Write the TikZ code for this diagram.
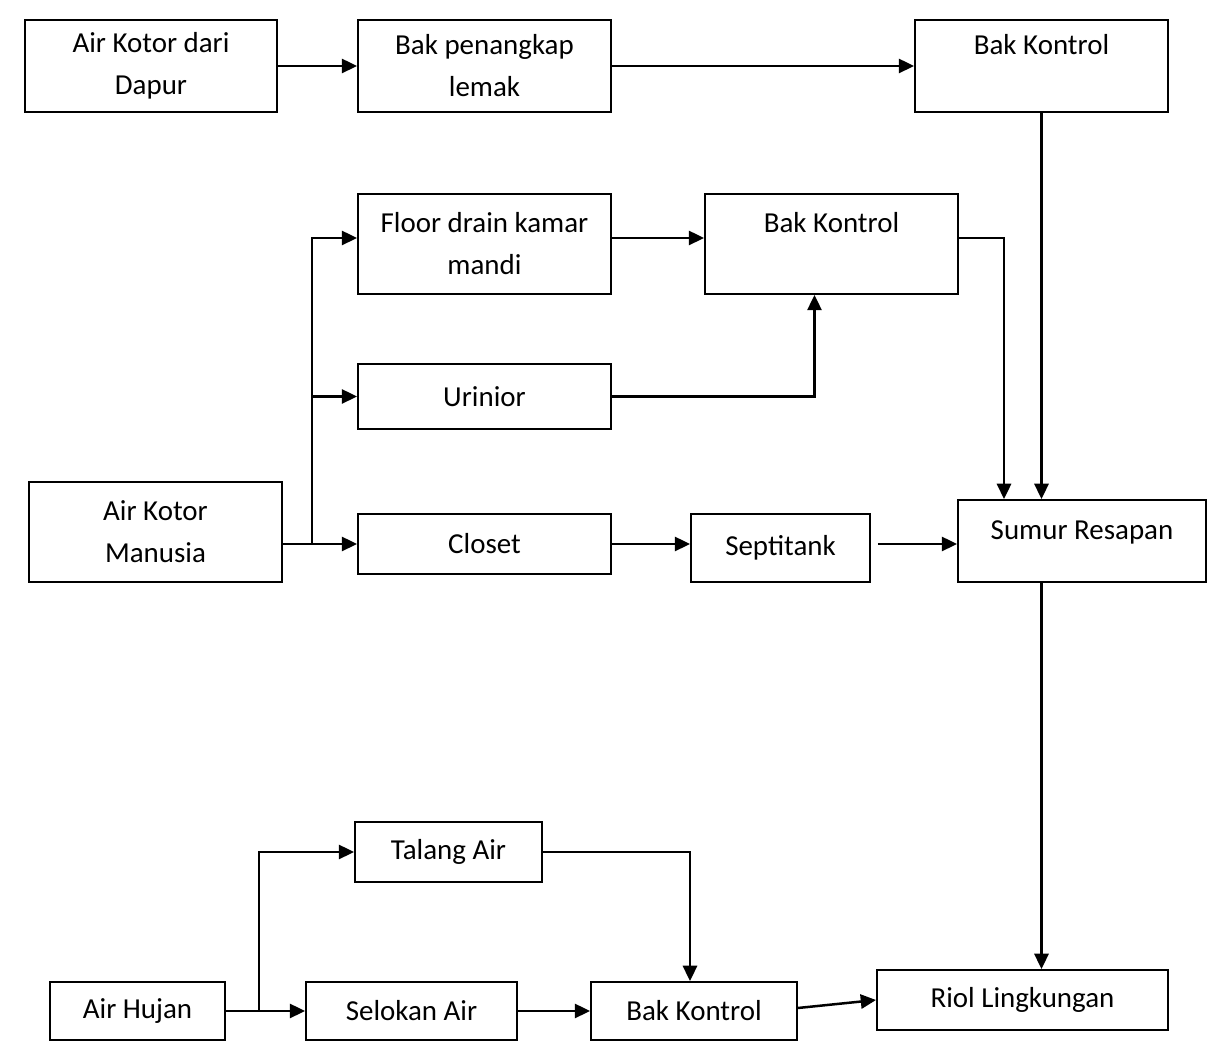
\documentclass[tikz,border=0pt]{standalone}
\usepackage{fontspec}
\setmainfont{Carlito}
\usetikzlibrary{arrows.meta}
\newlength\unitpx
\setlength\unitpx{0.38pt}
\begin{document}
\begin{tikzpicture}[x=0.38pt,y=-0.38pt,
  box/.style={draw,line width=0.75pt,inner sep=0,align=center,
    font=\fontsize{11}{16}\selectfont},
  ar/.style={line width=0.95pt,-{Triangle[length=5.8pt,width=5.4pt]}}]
\useasboundingbox (0,0) rectangle (1212,1044);
\foreach \n/\x/\y/\w/\h/\txt in {
  dapur/151/66/252/92/{Air Kotor dari\\Dapur},
  lemak/484.5/66/253/92/{Bak penangkap\\lemak},
  bk1/1041.5/66/253/92/{Bak Kontrol\\\phantom{B}},
  floor/484.5/244/253/100/{Floor drain kamar\\mandi},
  bk2/831.5/244/253/100/{Bak Kontrol\\\phantom{B}},
  urin/484.5/396.5/253/65/{Urinior},
  manusia/155.5/532/253/100/{Air Kotor\\Manusia},
  closet/484.5/544/253/60/{Closet},
  septi/780.5/548/179/68/{Septitank},
  sumur/1082/541/248/82/{Sumur Resapan\\[-20\unitpx]\phantom{S}},
  talang/448.5/852/187/60/{Talang Air},
  hujan/137.5/1011/175/58/{Air Hujan},
  selokan/411.5/1011/211/58/{Selokan Air},
  bk3/694/1011/206/58/{Bak Kontrol},
  riol/1022.5/1000/291/60/{Riol Lingkungan}} {
  \node[box,minimum width=\w\unitpx,minimum height=\h\unitpx] (\n) at (\x,\y) {\txt};
}
\coordinate (s1) at (312,544);
\coordinate (s2) at (259,1011);
\draw[ar] (dapur.east) -- (lemak.west);
\draw[ar] (lemak.east) -- (bk1.west);
\draw[ar] (bk1.south) -- (bk1.south |- sumur.north);
\draw[ar] ([yshift=6\unitpx]floor.east) -- ([yshift=6\unitpx]bk2.west);
\draw[ar] ([yshift=6\unitpx]bk2.east) -| ([xshift=47\unitpx]sumur.north west);
\draw[ar] (urin.east) -| ([xshift=-17\unitpx]bk2.south);
\draw[ar] (manusia.east |- closet.west) -- (closet.west);
\draw[ar] (s1) |- ([yshift=6\unitpx]floor.west);
\draw[ar] (s1) |- (urin.west);
\draw[ar] (closet.east) -- (closet.east -| septi.west);
\draw[ar] ([xshift=7\unitpx]closet.east -| septi.east) -- (closet.east -| sumur.west);
\draw[ar] (sumur.south -| bk1.south) -- (riol.north -| bk1.south);
\draw[ar] (hujan.east) -- (selokan.west);
\draw[ar] (s2) |- (talang.west);
\draw[ar] (talang.east) -| ([xshift=-4\unitpx]bk3.north);
\draw[ar] (selokan.east) -- (bk3.west);
\draw[ar] ([yshift=3\unitpx]bk3.east) -- (riol.west);
\end{tikzpicture}
\end{document}
